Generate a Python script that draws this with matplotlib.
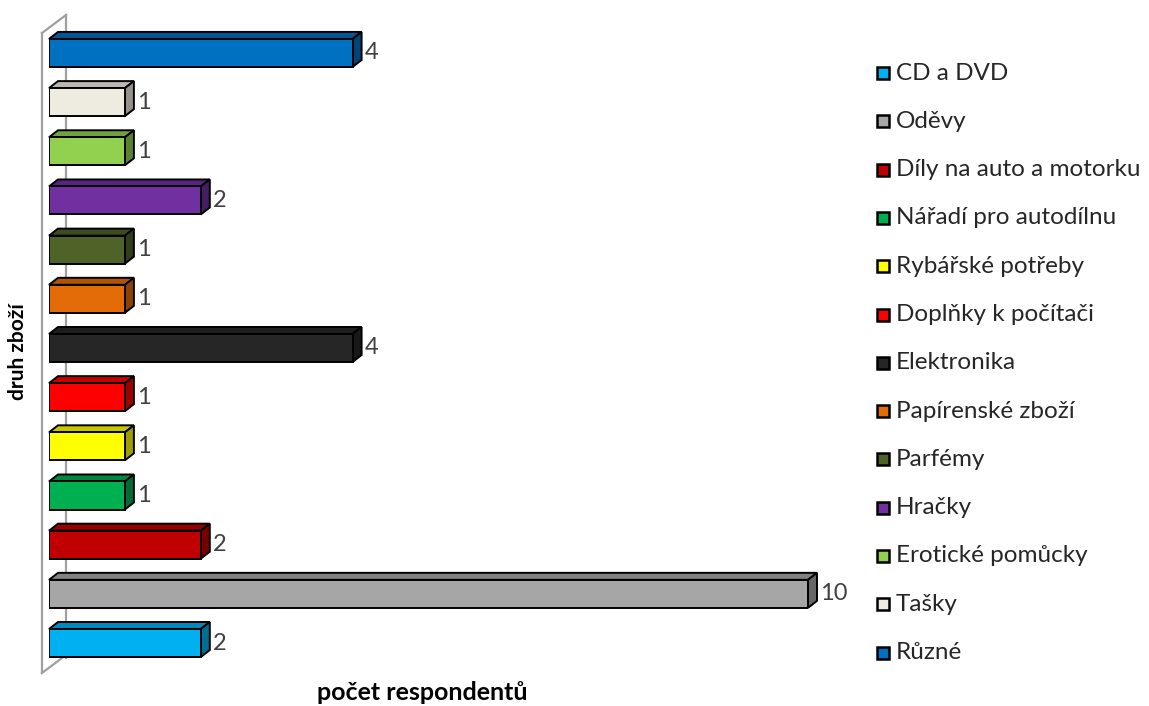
import matplotlib
matplotlib.use('Agg')
import matplotlib.pyplot as plt
from matplotlib.patches import Polygon, Rectangle
from matplotlib.colors import to_rgb

plt.rcParams['font.family'] = ['Lato', 'DejaVu Sans']

# Categories from bottom to top, counts of respondents
categories = ['CD a DVD', 'Oděvy', 'Díly na auto a motorku', 'Nářadí pro autodílnu',
              'Rybářské potřeby', 'Doplňky k počítači', 'Elektronika', 'Papírenské zboží',
              'Parfémy', 'Hračky', 'Erotické pomůcky', 'Tašky', 'Různé']
counts = [2, 10, 2, 1, 1, 1, 4, 1, 1, 2, 1, 1, 4]
colors = ['#00B0F0', '#A6A6A6', '#C00000', '#00B050', '#FFFF00', '#FF0000', '#262626',
          '#E36C09', '#4F6228', '#7030A0', '#92D050', '#EEECE1', '#0070C0']


def shade(c, f):
    r, g, b = to_rgb(c)
    return (r * f, g * f, b * f)


W, H = 1149, 706
fig = plt.figure(figsize=(W / 100, H / 100), dpi=100)
# axes spans the front plane of the bars (x: 0..10)
x0, x1 = 49, 808
y_top, y_bot = 20, 680
ax = fig.add_axes([x0 / W, (H - y_bot) / H, (x1 - x0) / W, (y_bot - y_top) / H])
ax.set_xlim(0, 10)
ax.set_ylim(-0.752, 12.67)
ax.axis('off')

# pixel -> data unit conversion for the 3D depth
px_x = 10 / (x1 - x0)
px_y = (12.67 + 0.752) / (y_bot - y_top)
dx, dy = 9 * px_x, 7 * px_y
bar_h = 0.57

# back wall
wall = dict(color='#A0A0A0', lw=1.6, clip_on=False, zorder=0)
wx_front, wx_back = -7 * px_x, 17 * px_x
wy_top_front = 12.67 - 13 * px_y
wy_bot_front = -0.752 + 7 * px_y
ax.plot([wx_front, wx_front], [wy_bot_front, wy_top_front], **wall)
ax.plot([wx_front, wx_back], [wy_top_front, wy_top_front + 18 * px_y], **wall)
ax.plot([wx_back, wx_back], [wy_top_front + 18 * px_y, wy_bot_front + 15 * px_y], **wall)
ax.plot([wx_front, 13 * px_x], [wy_bot_front, wy_bot_front + 15 * px_y], **wall)

for i, (v, c) in enumerate(zip(counts, colors)):
    yb, yt = i - bar_h / 2, i + bar_h / 2
    ax.barh(i, v, height=bar_h, color=c, edgecolor='black', linewidth=1.4, zorder=3)
    top = Polygon([(0, yt), (v, yt), (v + dx, yt + dy), (dx, yt + dy)], closed=True,
                  facecolor=shade(c, 0.78), edgecolor='black', linewidth=1.4, zorder=2,
                  clip_on=False)
    side = Polygon([(v, yb), (v + dx, yb + dy), (v + dx, yt + dy), (v, yt)], closed=True,
                   facecolor=shade(c, 0.62), edgecolor='black', linewidth=1.4, zorder=2,
                   clip_on=False)
    ax.add_patch(top)
    ax.add_patch(side)
    ax.text(v + dx + 3 * px_x, i, str(v), va='center', ha='left', fontsize=17,
            color='#404040', clip_on=False)

# axis titles
fig.text(18 / W, 1 - 352 / H, 'druh zboží', rotation=90, ha='center', va='center',
         fontsize=15, fontweight='bold')
fig.text(422 / W, 1 - 693 / H, 'počet respondentů', ha='center', va='center',
         fontsize=18, fontweight='bold')

# legend, listed top to bottom
row0, row_gap = 73, 48.3
sq = 12
for k, (lab, c) in enumerate(zip(categories, colors)):
    yc = row0 + k * row_gap
    fig.patches.append(Rectangle((877 / W, 1 - (yc + sq / 2) / H), sq / W, sq / H,
                                 transform=fig.transFigure, facecolor=c,
                                 edgecolor='black', linewidth=1.8))
    fig.text(896 / W, 1 - yc / H, lab, ha='left', va='center', fontsize=17.5,
             color='#262626')

fig.savefig('out.png', dpi=100)
